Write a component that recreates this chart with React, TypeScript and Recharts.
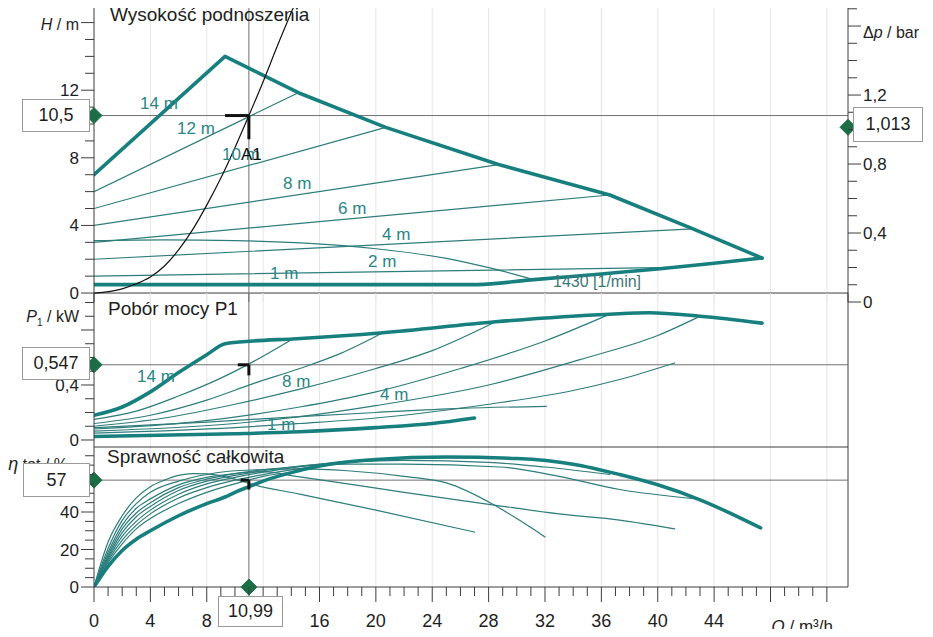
import React from 'react';
import { LineChart, Line, XAxis, YAxis, ReferenceLine, ReferenceDot } from 'recharts';

type Pt = [number, number];

// ---------------- data ----------------
// Flow Q (m3/h) ticks
const qTicks = [0,1,2,3,4,5,6,7,8,9,10,11,12,13,14,15,16,17,18,19,20,21,22,23,24,25,26,27,28,29,30,31,32,33,34,35,36,37,38,39,40,41,42,43,44,45,46,47,48,49,50,51,52];
const qMajor = [0,4,8,12,16,20,24,28,32,36,40,44,48,52];
const qLabelValues = [0,4,8,12,16,20,24,28,32,36,40,44];
const qLabelTexts = ['0','4','8','12','16','20','24','28','32','36','40','44'];
const qTitleAt = 48;
const qGrid = [4,8,12,16,20,24,28,32,36,40,44,48,52];

const hTicks = [0,1,2,3,4,5,6,7,8,9,10,11,12,13,14,15,16];
const hMajor = [0,4,8,12,16];
const hLabelValues = [0,4,8,12];
const hLabelTexts = ['0','4','8','12'];

const dpTicks = [0,0.1,0.2,0.3,0.4,0.5,0.6,0.7,0.8,0.9,1.0,1.1,1.2,1.3,1.4,1.5,1.6,1.7];
const dpMajor = [0,0.4,0.8,1.2,1.6];
const dpLabelValues = [0,0.4,0.8,1.2];
const dpLabelTexts = ['0','0,4','0,8','1,2'];

const pTicks = [0,0.1,0.2,0.3,0.4,0.5,0.6,0.7,0.8,0.9,1.0];
const pMajor = [0,0.4,0.8];
const pLabelValues = [0,0.4];
const pLabelTexts = ['0','0,4'];

const etaTicks = [0,5,10,15,20,25,30,35,40,45,50,55,60,65,70];
const etaMajor = [0,20,40,60];
const etaLabelValues = [0,20,40];
const etaLabelTexts = ['0','20','40'];

// operating point
const opQ = 10.99;
const opH = 10.5;
const opDp = 1.013;
const opP = 0.547;
const opEta = 57;

// head curves H (m)
const hMax: Pt[] = [[0,7],[9.3,14],[14.5,11.85],[20.7,9.8],[28.7,7.6],[36.6,5.8],[42.5,3.8],[47.4,2.07]];
const hMin: Pt[] = [[0,0.5],[27.2,0.5],[31,0.78],[36,1.13],[40,1.42],[44,1.76],[47.4,2.07]];
const h12: Pt[] = [[0,6],[14.5,11.85]];
const h10: Pt[] = [[0,5],[20.7,9.8]];
const h8: Pt[] = [[0,4],[28.7,7.6]];
const h6: Pt[] = [[0,3],[36.6,5.8]];
const h4: Pt[] = [[0,2],[42.5,3.8]];
const h2: Pt[] = [[0,1],[41.2,1.52]];
const h1430: Pt[] = [[0,3.1],[5,3.15],[10,3.1],[15,2.95],[20,2.62],[25,2.05],[28,1.5],[31.2,0.8]];
const hSystem: Pt[] = [[0,0],[2,0.25],[3,0.55],[4,0.95],[5,1.6],[6,2.55],[7,3.75],[8,5.2],[9,6.8],[10,8.6],[10.99,10.5],[12,12.5],[13,14.6],[14.2,17]];

// power curves P1 (kW)
const pMax: Pt[] = [[0,0.18],[2,0.24],[4,0.35],[6,0.49],[8,0.62],[9.3,0.70],[11.3,0.72],[14.1,0.735],[20.5,0.78],[28.5,0.86],[36.6,0.915],[39.4,0.925],[43,0.9],[47.4,0.85]];
const p12: Pt[] = [[0,0.15],[3,0.21],[6,0.32],[9,0.45],[11.3,0.57],[14.1,0.735]];
const p10: Pt[] = [[0,0.12],[4,0.18],[8,0.29],[11.3,0.41],[14.6,0.52],[17.5,0.63],[20.5,0.78]];
const p8: Pt[] = [[0,0.10],[5,0.16],[10,0.26],[14.6,0.37],[20,0.52],[24,0.65],[28.5,0.86]];
const p6: Pt[] = [[0,0.08],[7,0.13],[14.6,0.24],[20,0.35],[26,0.52],[32,0.72],[36.6,0.915]];
const p4: Pt[] = [[0,0.065],[10,0.12],[14.6,0.17],[20,0.25],[28,0.40],[35,0.60],[40,0.76],[42.8,0.89]];
const p2: Pt[] = [[0,0.05],[10,0.09],[14.6,0.12],[20,0.16],[28,0.26],[34,0.36],[37.3,0.44],[41.2,0.56]];
const p1430: Pt[] = [[0,0.09],[8,0.13],[14.6,0.17],[20,0.2],[26,0.23],[32.1,0.245]];
const p1: Pt[] = [[0,0.025],[10,0.045],[14.6,0.06],[20,0.09],[24,0.12],[27,0.16]];

// efficiency curves eta (%)
const eMax: Pt[] = [[0,0],[1,11],[2,19.5],[3,25.5],[4,30],[6,38],[8,44.5],[9.3,48],[10,50.5],[11,53.5],[12,56.5],[14,61],[16,64.5],[20,68],[25,69.3],[30,68.5],[34,65.5],[37.3,60],[40,54.5],[43,46.5],[47.3,31.5]];
const e12: Pt[] = [[0,0],[1,13],[2,23],[3,31],[4,36.5],[6,44.5],[8,50.5],[10,55],[12,59],[14.1,61.2]];
const e10: Pt[] = [[0,0],[1,14],[2,25],[3,33],[4,39],[6,47.5],[8,53],[10,57],[14,62.5],[18,66.5],[20.5,68]];
const e8: Pt[] = [[0,0],[1,15],[2,27],[3,35],[4,41],[6,49.5],[8,55],[10,58.5],[14,63.5],[18,67],[22,68.8],[28.5,69]];
const e6: Pt[] = [[0,0],[1,16],[2,29],[3,37.5],[4,43],[6,51.5],[8,56.5],[10,59.5],[14,64],[18,66.5],[22,67.5],[28,66.5],[32,64],[36.6,60]];
const e4: Pt[] = [[0,0],[1,17],[2,31],[3,39.5],[4,45],[6,53],[8,57.5],[10,60.5],[14,64],[18,65.5],[22,65.5],[28.8,64],[33,59],[37.3,52],[42.8,47]];
const e2: Pt[] = [[0,0],[1,18.5],[2,33],[3,42],[4,47],[6,54.5],[8,58.5],[10,60.5],[12,61.5],[14.6,58.7],[18,55],[22,50.5],[28.4,43.7],[33,39],[37.3,35.7],[41.2,31]];
const e1430: Pt[] = [[0,0],[1,20.5],[2,35.5],[3,44.5],[4,50.5],[6,56.5],[8,60],[10,62],[14.6,63],[18,62],[22,59],[25,55.5],[28.4,43.7],[30,36.5],[32,26.7]];
const e1: Pt[] = [[0,0],[1,24],[2,38],[3,47.5],[4,53.5],[5,57],[6,59.5],[7,60.5],[8,60.3],[10,57.5],[11.1,55],[14.6,49.5],[20,41],[27,29.3]];

// ---------------- style ----------------
const FONT = '"Liberation Sans", Arial, Helvetica, sans-serif';
const INK = '#1e1e1e';
const AXIS = '#3c3c3c';
const TEAL = '#17807e';
const THIN = '#2e7d7c';
const LABEL_TEAL = '#2a8685';
const REF = '#707070';
const GRID = '#e6e6e6';
const GREEN = '#1c6e46';

const Q_DOMAIN: [number, number] = [0, 53.5];
const H_DOMAIN: [number, number] = [-0.53, 17.04];
const DP_DOMAIN: [number, number] = [0, 1.722];
const P_DOMAIN: [number, number] = [-0.051, 1.069];
const ETA_DOMAIN: [number, number] = [0, 74.67];

const pts = (a: Pt[]) => a.map(([x, y]) => ({ x, y }));
const near = (a: number, b: number) => Math.abs(a - b) < 1e-6;
const comma = (v: number) => String(v).replace('.', ',');

type YCfg = {
  side: 'left' | 'right';
  majors: number[];
  labelValues: number[];
  labelTexts: string[];
  titleAt?: number;
  title?: React.ReactNode;
  titleDy?: number;
  titleDx?: number;
};

const makeYTick = (c: YCfg) => (props: any) => {
  const { x, y, payload } = props;
  const v = payload.value as number;
  const major = c.majors.some((m) => near(m, v));
  const s = c.side === 'left' ? -1 : 1;
  const idx = c.labelValues.findIndex((m) => near(m, v));
  const isTitle = c.titleAt !== undefined && near(c.titleAt, v);
  return (
    <g>
      <line x1={x} x2={x + s * (major ? 13 : 9)} y1={y} y2={y} stroke={AXIS} strokeWidth={1} />
      {idx >= 0 && (
        <text x={x + s * 15} y={y} dy={6} textAnchor={c.side === 'left' ? 'end' : 'start'} fontSize={17} fill={INK} fontFamily={FONT}>
          {c.labelTexts[idx]}
        </text>
      )}
      {isTitle && (
        <text x={x + s * 15 + (c.titleDx ?? 0)} y={y} dy={c.titleDy ?? 6} textAnchor={c.side === 'left' ? 'end' : 'start'} fontSize={16} fill={INK} fontFamily={FONT}>
          {c.title}
        </text>
      )}
    </g>
  );
};

const hTick = makeYTick({
  side: 'left', majors: hMajor, labelValues: hLabelValues, labelTexts: hLabelTexts,
  titleAt: 16, title: (<><tspan fontStyle="italic">H</tspan><tspan> / m</tspan></>), titleDy: 7,
});
const dpTick = makeYTick({
  side: 'right', majors: dpMajor, labelValues: dpLabelValues, labelTexts: dpLabelTexts,
  titleAt: 1.6, title: (<><tspan>Δ</tspan><tspan fontStyle="italic">p</tspan><tspan> / bar</tspan></>), titleDy: 12,
});
const pTick = makeYTick({
  side: 'left', majors: pMajor, labelValues: pLabelValues, labelTexts: pLabelTexts,
  titleAt: 0.9, title: (<><tspan fontStyle="italic">P</tspan><tspan fontSize={10} dy={4}>1</tspan><tspan dy={-4}> / kW</tspan></>), titleDy: 6,
});
const etaTick = makeYTick({
  side: 'left', majors: etaMajor, labelValues: etaLabelValues, labelTexts: etaLabelTexts,
  titleAt: 65, title: (<><tspan fontStyle="italic" fontSize={18}>η</tspan><tspan> tot / %</tspan></>), titleDy: 5, titleDx: -11,
});

const XTick = (props: any) => {
  const { x, y, payload } = props;
  const v = payload.value as number;
  const major = qMajor.includes(v);
  const idx = qLabelValues.indexOf(v);
  return (
    <g>
      <line x1={x} x2={x} y1={y} y2={y + (major ? 15 : 9)} stroke={AXIS} strokeWidth={1} />
      {idx >= 0 && (
        <text x={x} y={y + 40} textAnchor="middle" fontSize={18} fill={INK} fontFamily={FONT}>
          {qLabelTexts[idx]}
        </text>
      )}
      {v === qTitleAt && (
        <text x={x + 1} y={y + 45} textAnchor="start" fontSize={17} fill={INK} fontFamily={FONT}>
          <tspan fontStyle="italic">Q</tspan>
          <tspan> / m³/h</tspan>
        </text>
      )}
    </g>
  );
};

const Diamond = (p: any) => {
  const { cx, cy } = p;
  const s = 8;
  return <polygon points={`${cx},${cy - s} ${cx + s},${cy} ${cx},${cy + s} ${cx - s},${cy}`} fill={GREEN} stroke={GREEN} />;
};

const curve = (a: Pt[], key: string, yId: string, thick: boolean, type: 'linear' | 'monotone' = 'linear', color?: string) => (
  <Line
    key={key}
    data={pts(a)}
    dataKey="y"
    xAxisId="q"
    yAxisId={yId}
    type={type}
    stroke={color ?? (thick ? TEAL : THIN)}
    strokeWidth={thick ? 3.6 : 1.2}
    dot={false}
    activeDot={false}
    isAnimationActive={false}
    strokeLinecap="round"
    strokeLinejoin="round"
  />
);

const gridLines = (yId: string) =>
  qGrid.map((g) => <ReferenceLine key={`g${g}`} x={g} xAxisId="q" yAxisId={yId} stroke={GRID} strokeWidth={1} />);

const W = 933;
const HGT = 637;
const AXW = 60; // y-axis band width
const LEFT = 94 - AXW;
const RIGHT_NOAXIS = 85;
const RIGHT_AXIS = 85 - AXW;

const layer: React.CSSProperties = { position: 'absolute', left: 0, top: 0 };

const Txt = ({ x, y, children, color = LABEL_TEAL, size = 17 }: any) => (
  <div style={{ position: 'absolute', left: x, top: y, fontSize: size, lineHeight: `${size}px`, color, fontFamily: FONT, whiteSpace: 'nowrap' }}>
    {children}
  </div>
);

const Box = ({ x, y, w, h, children }: any) => (
  <div
    style={{
      position: 'absolute', left: x, top: y, width: w, height: h, boxSizing: 'border-box',
      border: '1px solid #9a9a9a', background: '#fff', fontFamily: FONT, fontSize: 18, color: INK,
      display: 'flex', alignItems: 'center', justifyContent: 'center',
    }}
  >
    {children}
  </div>
);

export default function App() {
  return (
    <div style={{ position: 'relative', width: W, height: HGT, margin: -8, background: '#fff', overflow: 'hidden' }}>
      {/* ---------- head ---------- */}
      <div style={layer}>
        <LineChart width={W} height={HGT} margin={{ top: 5, right: RIGHT_AXIS, bottom: HGT - 302, left: LEFT }}>
          <XAxis xAxisId="q" type="number" dataKey="x" domain={Q_DOMAIN} allowDataOverflow hide />
          <YAxis yAxisId="h" type="number" domain={H_DOMAIN} allowDataOverflow ticks={hTicks} interval={0} width={AXW}
            tick={hTick} tickLine={false} tickSize={0} tickMargin={0} axisLine={{ stroke: AXIS }} />
          <YAxis yAxisId="dp" orientation="right" type="number" domain={DP_DOMAIN} allowDataOverflow ticks={dpTicks} interval={0} width={AXW}
            tick={dpTick} tickLine={false} tickSize={0} tickMargin={0} axisLine={{ stroke: AXIS }} />
          {gridLines('h')}
          <ReferenceLine y={H_DOMAIN[1]} xAxisId="q" yAxisId="h" stroke={AXIS} strokeWidth={1} ifOverflow="visible" />
          <ReferenceLine y={0} xAxisId="q" yAxisId="h" stroke={AXIS} strokeWidth={1} />
          <ReferenceLine y={opH} xAxisId="q" yAxisId="h" stroke={REF} strokeWidth={1} />
          <ReferenceLine x={opQ} xAxisId="q" yAxisId="h" stroke={REF} strokeWidth={1} />
          {curve(h12, 'h12', 'h', false)}
          {curve(h10, 'h10', 'h', false)}
          {curve(h8, 'h8', 'h', false)}
          {curve(h6, 'h6', 'h', false)}
          {curve(h4, 'h4', 'h', false)}
          {curve(h2, 'h2', 'h', false)}
          {curve(h1430, 'h1430', 'h', false, 'monotone')}
          {curve(hMax, 'hMax', 'h', true)}
          {curve(hMin, 'hMin', 'h', true, 'monotone')}
          {curve(hSystem, 'hSys', 'h', false, 'monotone', '#111')}
          <ReferenceLine xAxisId="q" yAxisId="h" segment={[{ x: 9.3, y: opH }, { x: opQ, y: opH }]} stroke="#111" strokeWidth={3} />
          <ReferenceLine xAxisId="q" yAxisId="h" segment={[{ x: opQ, y: opH }, { x: opQ, y: 9.1 }]} stroke="#111" strokeWidth={3} />
          <ReferenceDot xAxisId="q" yAxisId="h" x={0} y={opH} r={8} shape={Diamond} ifOverflow="visible" />
          <ReferenceDot xAxisId="q" yAxisId="dp" x={Q_DOMAIN[1]} y={opDp} r={8} shape={Diamond} ifOverflow="visible" />
        </LineChart>
      </div>

      {/* ---------- power ---------- */}
      <div style={layer}>
        <LineChart width={W} height={HGT} margin={{ top: 293, right: RIGHT_NOAXIS, bottom: HGT - 447, left: LEFT }}>
          <XAxis xAxisId="q" type="number" dataKey="x" domain={Q_DOMAIN} allowDataOverflow hide />
          <YAxis yAxisId="p" type="number" domain={P_DOMAIN} allowDataOverflow ticks={pTicks} interval={0} width={AXW}
            tick={pTick} tickLine={false} tickSize={0} tickMargin={0} axisLine={{ stroke: AXIS }} />
          {gridLines('p')}
          <ReferenceLine x={Q_DOMAIN[1]} xAxisId="q" yAxisId="p" stroke={AXIS} strokeWidth={1} />
          <ReferenceLine y={opP} xAxisId="q" yAxisId="p" stroke={REF} strokeWidth={1} />
          <ReferenceLine x={opQ} xAxisId="q" yAxisId="p" stroke={REF} strokeWidth={1} />
          {curve(p12, 'p12', 'p', false, 'monotone')}
          {curve(p10, 'p10', 'p', false, 'monotone')}
          {curve(p8, 'p8', 'p', false, 'monotone')}
          {curve(p6, 'p6', 'p', false, 'monotone')}
          {curve(p4, 'p4', 'p', false, 'monotone')}
          {curve(p2, 'p2', 'p', false, 'monotone')}
          {curve(p1430, 'p1430', 'p', false, 'monotone')}
          {curve(pMax, 'pMax', 'p', true, 'monotone')}
          {curve(p1, 'p1', 'p', true, 'monotone')}
          <ReferenceLine xAxisId="q" yAxisId="p" segment={[{ x: 10.2, y: opP }, { x: opQ, y: opP }]} stroke="#111" strokeWidth={3} />
          <ReferenceLine xAxisId="q" yAxisId="p" segment={[{ x: opQ, y: opP }, { x: opQ, y: 0.47 }]} stroke="#111" strokeWidth={3} />
          <ReferenceDot xAxisId="q" yAxisId="p" x={0} y={opP} r={8} shape={Diamond} ifOverflow="visible" />
        </LineChart>
      </div>

      {/* ---------- efficiency ---------- */}
      <div style={layer}>
        <LineChart width={W} height={HGT} margin={{ top: 447, right: RIGHT_NOAXIS, bottom: 20, left: LEFT }}>
          <XAxis xAxisId="q" type="number" dataKey="x" domain={Q_DOMAIN} allowDataOverflow ticks={qTicks} interval={0} height={30}
            tick={XTick} tickLine={false} tickSize={0} tickMargin={0} axisLine={{ stroke: AXIS }} />
          <YAxis yAxisId="e" type="number" domain={ETA_DOMAIN} allowDataOverflow ticks={etaTicks} interval={0} width={AXW}
            tick={etaTick} tickLine={false} tickSize={0} tickMargin={0} axisLine={{ stroke: AXIS }} />
          {gridLines('e')}
          <ReferenceLine y={ETA_DOMAIN[1]} xAxisId="q" yAxisId="e" stroke={AXIS} strokeWidth={1} ifOverflow="visible" />
          <ReferenceLine x={Q_DOMAIN[1]} xAxisId="q" yAxisId="e" stroke={AXIS} strokeWidth={1} />
          <ReferenceLine y={opEta} xAxisId="q" yAxisId="e" stroke={REF} strokeWidth={1} />
          <ReferenceLine x={opQ} xAxisId="q" yAxisId="e" stroke={REF} strokeWidth={1} />
          {curve(e1, 'e1', 'e', false, 'monotone')}
          {curve(e1430, 'e1430', 'e', false, 'monotone')}
          {curve(e2, 'e2', 'e', false, 'monotone')}
          {curve(e4, 'e4', 'e', false, 'monotone')}
          {curve(e6, 'e6', 'e', false, 'monotone')}
          {curve(e8, 'e8', 'e', false, 'monotone')}
          {curve(e10, 'e10', 'e', false, 'monotone')}
          {curve(e12, 'e12', 'e', false, 'monotone')}
          {curve(eMax, 'eMax', 'e', true, 'monotone')}
          <ReferenceLine xAxisId="q" yAxisId="e" segment={[{ x: 10.4, y: opEta }, { x: opQ, y: opEta }]} stroke="#111" strokeWidth={3} />
          <ReferenceLine xAxisId="q" yAxisId="e" segment={[{ x: opQ, y: opEta }, { x: opQ, y: 52 }]} stroke="#111" strokeWidth={3} />
          <ReferenceDot xAxisId="q" yAxisId="e" x={0} y={opEta} r={8} shape={Diamond} ifOverflow="visible" />
          <ReferenceDot xAxisId="q" yAxisId="e" x={opQ} y={0} r={8} shape={Diamond} ifOverflow="visible" />
        </LineChart>
      </div>

      {/* ---------- texts ---------- */}
      <Txt x={110} y={5} color={INK} size={19}>Wysokość podnoszenia</Txt>
      <Txt x={108} y={299} color={INK} size={19}>Pobór mocy P1</Txt>
      <Txt x={107} y={447} color={INK} size={19}>Sprawność całkowita</Txt>

      <Txt x={140} y={95}>14 m</Txt>
      <Txt x={177} y={120}>12 m</Txt>
      <Txt x={222} y={146}>10 m</Txt>
      <Txt x={241} y={146} color="#111">A1</Txt>
      <Txt x={283} y={175}>8 m</Txt>
      <Txt x={338} y={200}>6 m</Txt>
      <Txt x={382} y={226}>4 m</Txt>
      <Txt x={368} y={253}>2 m</Txt>
      <Txt x={270} y={265}>1 m</Txt>
      <Txt x={553} y={274} color="#3b7878" size={16}>1430 [1/min]</Txt>

      <Txt x={137} y={368}>14 m</Txt>
      <Txt x={282} y={373}>8 m</Txt>
      <Txt x={380} y={386}>4 m</Txt>
      <Txt x={267} y={416}>1 m</Txt>

      <Box x={22} y={99} w={68} h={33}>{comma(opH)}</Box>
      <Box x={853} y={107} w={70} h={35}>{comma(opDp)}</Box>
      <Box x={22} y={347} w={68} h={33}>{comma(opP)}</Box>
      <Box x={23} y={463} w={67} h={34}>{comma(opEta)}</Box>
      <Box x={218} y={596} w={65} h={31}>{comma(opQ)}</Box>
    </div>
  );
}
